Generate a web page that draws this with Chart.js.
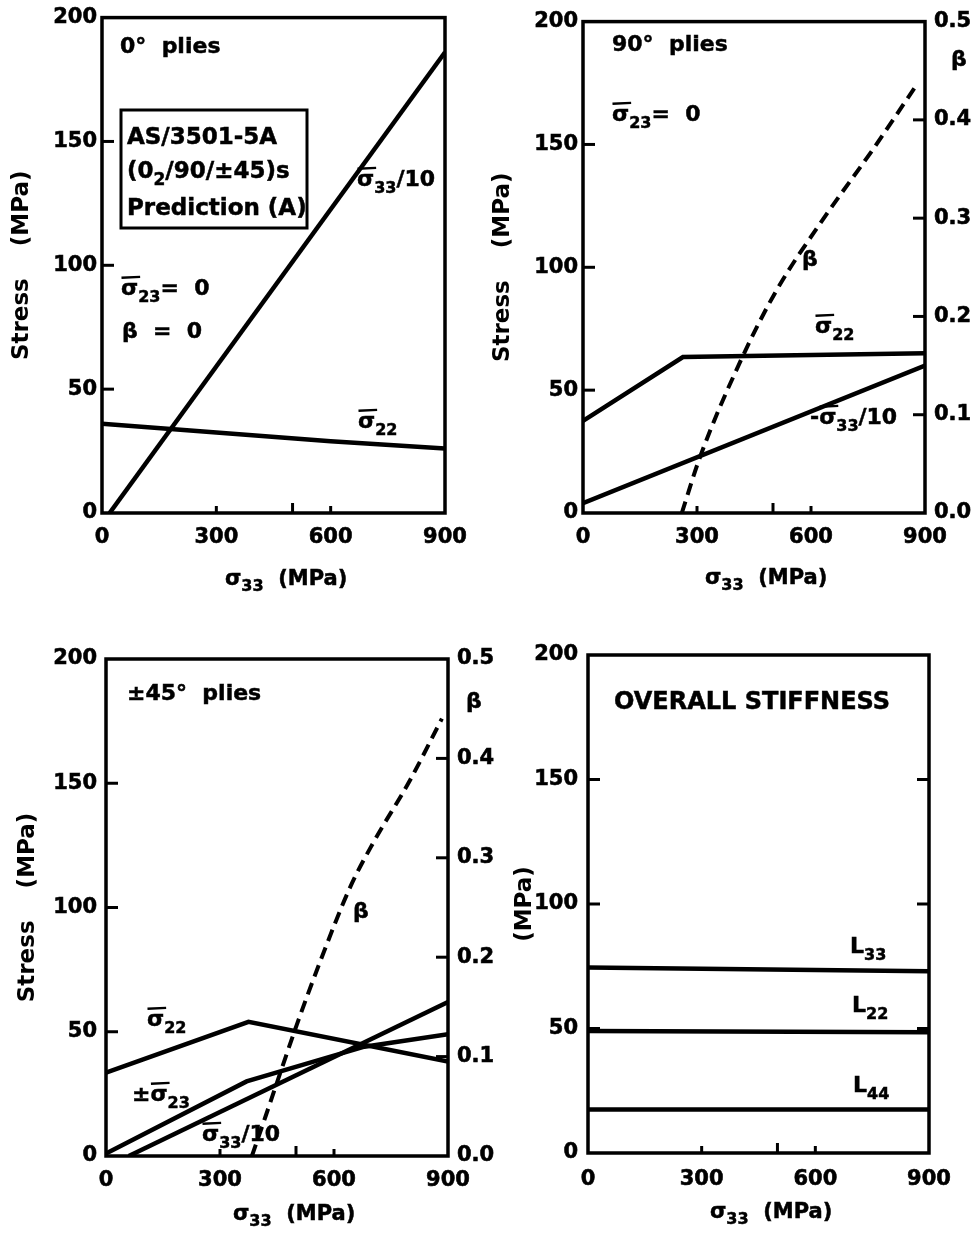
<!DOCTYPE html>
<html><head><meta charset="utf-8">
<script src="https://cdn.jsdelivr.net/npm/chart.js@4"></script>
<style>
html,body{margin:0;padding:0;background:#fff;}
body{width:973px;height:1253px;position:relative;overflow:hidden;}
canvas{position:absolute;left:0;top:0;}
</style></head><body>
<canvas id="c1" width="973" height="1253"></canvas>
<canvas id="c2" width="973" height="1253"></canvas>
<canvas id="c3" width="973" height="1253"></canvas>
<canvas id="c4" width="973" height="1253"></canvas>
<script>
// ---------------- DATA ----------------
const xTicks = [0, 300, 600, 900];
const stressTicks = [0, 50, 100, 150, 200];
const betaTicks = [0, 0.1, 0.2, 0.3, 0.4, 0.5];
const xInnerTicks = [300, 500, 600];
const stressInnerTicks = [50, 100, 150];
const betaInnerTicks = [0.1, 0.2, 0.3, 0.4];

// Panel 1: 0° plies
const p1_s33_x = [20, 900];            const p1_s33_y = [0, 186];
const p1_s22_x = [0, 300, 600, 900];   const p1_s22_y = [36, 32.5, 29, 26];
// Panel 2: 90° plies
const p2_s22_x = [0, 263, 900];        const p2_s22_y = [37.5, 63.5, 65];
const p2_s33_x = [0, 900];             const p2_s33_y = [4, 60];
const p2_beta_x = [260, 308, 421, 510, 632, 763, 882];
const p2_beta_y = [0, 0.057, 0.16, 0.227, 0.299, 0.37, 0.438];
// Panel 3: ±45° plies
const p3_s22_x = [0, 375, 900];        const p3_s22_y = [33.5, 54, 38];
const p3_s23_x = [0, 370, 680, 900];   const p3_s23_y = [1, 30, 44, 49];
const p3_s33_x = [60, 900];            const p3_s33_y = [0, 62];
const p3_beta_x = [384, 420, 466, 502, 563, 642, 703, 800, 884];
const p3_beta_y = [0, 0.04, 0.092, 0.132, 0.195, 0.27, 0.315, 0.378, 0.44];
// Panel 4: overall stiffness
const p4_L33_x = [0, 900];  const p4_L33_y = [74.5, 73];
const p4_L22_x = [0, 900];  const p4_L22_y = [49, 48.5];
const p4_L44_x = [0, 900];  const p4_L44_y = [17.5, 17.5];

// ---------------- HELPERS ----------------
const FONT = '"DejaVu Sans", "Liberation Sans", sans-serif';
const pts = (xs, ys) => xs.map((x, i) => ({x, y: ys[i]}));
const solid = (xs, ys) => ({data: pts(xs, ys), borderColor: '#000', borderWidth: 4.5, pointRadius: 0, tension: 0, fill: false, yAxisID: 'y'});
const dashed = (xs, ys) => ({data: pts(xs, ys), borderColor: '#000', borderWidth: 4, borderDash: [12, 7], pointRadius: 0, cubicInterpolationMode: 'monotone', fill: false, yAxisID: 'y2'});

function drawRich(ctx, x, y, parts, size) {
  const base = y + 0.36 * size;
  let cx = x;
  for (const [t, kind] of parts) {
    const sub = kind === 'sub';
    const fs = sub ? Math.round(size * 0.74) : size;
    ctx.font = `bold ${fs}px ${FONT}`;
    ctx.textBaseline = 'alphabetic';
    ctx.textAlign = 'left';
    const by = sub ? base + 0.3 * size : base;
    ctx.lineWidth = 0.5;
    ctx.fillText(t, cx, by);
    ctx.strokeText(t, cx, by);
    const w = ctx.measureText(t).width;
    if (kind === 'bar') {
      ctx.lineWidth = Math.max(2, size * 0.11);
      ctx.beginPath();
      ctx.moveTo(cx + 0.5, base - 0.78 * size);
      ctx.lineTo(cx + w + 2, base - 0.82 * size);
      ctx.stroke();
    }
    cx += w;
  }
}

const decor = {
  id: 'decor',
  afterDatasetsDraw(chart, args, o) {
    const {ctx, chartArea: a, scales} = chart;
    ctx.save();
    ctx.strokeStyle = '#000'; ctx.fillStyle = '#000';
    ctx.lineCap = 'square';
    ctx.lineWidth = 3.5;
    ctx.strokeRect(a.left, a.top, a.right - a.left, a.bottom - a.top);
    ctx.lineWidth = 3;
    ctx.lineCap = 'butt';
    const seg = (x1, y1, x2, y2) => { ctx.beginPath(); ctx.moveTo(x1, y1); ctx.lineTo(x2, y2); ctx.stroke(); };
    stressInnerTicks.forEach(v => { const y = scales.y.getPixelForValue(v); seg(a.left, y, a.left + 12, y); });
    if (o.rightTicks === 'beta') betaInnerTicks.forEach(v => { const y = scales.y2.getPixelForValue(v); seg(a.right, y, a.right - 12, y); });
    if (o.rightTicks === 'stress') stressInnerTicks.forEach(v => { const y = scales.y.getPixelForValue(v); seg(a.right, y, a.right - 12, y); });
    xInnerTicks.forEach(v => { const x = scales.x.getPixelForValue(v); seg(x, a.bottom, x, a.bottom - (v === 500 ? 10 : 7)); });
    if (o.box) { ctx.lineWidth = 3; ctx.strokeRect(...o.box); }
    (o.labels || []).forEach(l => drawRich(ctx, l.x, l.y, l.parts, l.size || 22));
    ctx.restore();
  }
};

function makeChart(id, P) {
  const tickFont = {family: FONT, size: 21, weight: 'bold'};
  const titleFont = {family: FONT, size: 23, weight: 'bold'};
  const lh = 1.2 * titleFont.size;
  const padLeft = P.yTitleX - lh / 2;
  const Wl = P.L - padLeft;
  const Wr = P.right ? 973 - P.R : 0;
  const Hb = 1253 - P.B;
  const tk = {font: tickFont, color: '#000', autoSkip: false, textStrokeColor: '#000', textStrokeWidth: 0.6};
  const scales = {
    x: {type: 'linear', min: 0, max: 900, position: 'bottom',
        afterBuildTicks: s => { s.ticks = xTicks.map(v => ({value: v})); },
        ticks: {...tk, padding: P.xPad, maxRotation: 0},
        grid: {display: false, drawTicks: false}, border: {display: false},
        afterFit: s => { s.height = Hb; }},
    y: {type: 'linear', min: 0, max: 200, position: 'left',
        afterBuildTicks: s => { s.ticks = stressTicks.map(v => ({value: v})); },
        ticks: {...tk, padding: P.yPad},
        grid: {display: false, drawTicks: false}, border: {display: false},
        title: {display: true, text: P.yTitle, font: titleFont, color: '#000', padding: 0},
        afterFit: s => { s.width = Wl; }}
  };
  if (P.right) {
    scales.y2 = {type: 'linear', min: 0, max: 0.5, position: 'right',
        afterBuildTicks: s => { s.ticks = betaTicks.map(v => ({value: v})); },
        ticks: {...tk, padding: 9, callback: v => v.toFixed(1)},
        grid: {display: false, drawTicks: false}, border: {display: false},
        afterFit: s => { s.width = Wr; }};
  }
  return new Chart(document.getElementById(id), {
    type: 'line',
    data: {datasets: P.datasets},
    options: {
      responsive: false, animation: false, devicePixelRatio: 1,
      layout: {autoPadding: false, padding: {left: padLeft, top: P.T, right: P.right ? 0 : 973 - P.R, bottom: 0}},
      scales,
      plugins: {legend: {display: false}, tooltip: {enabled: false},
        decor: {box: P.box, labels: P.labels, rightTicks: P.rightTicks}}
    },
    plugins: [decor]
  });
}

const xTitle = (x, y) => ({x, y, size: 21, parts: [['σ'], ['33', 'sub'], ['  (MPa)']]});
const sbar = (n) => [['σ', 'bar'], [n, 'sub']];

makeChart('c1', {
  L: 102, R: 445, T: 15, B: 513, yTitleX: 22, yTitle: 'Stress    (MPa)', xPad: 12, yPad: 5, right: false, rightTicks: null,
  datasets: [solid(p1_s33_x, p1_s33_y), solid(p1_s22_x, p1_s22_y)],
  box: [121, 110, 186, 118],
  labels: [
    {x: 120, y: 45, size: 22, parts: [['0°  plies']]},
    {x: 127, y: 136, size: 23, parts: [['AS/3501-5A']]},
    {x: 127, y: 170, size: 23, parts: [['(0'], ['2', 'sub'], ['/90/±45)s']]},
    {x: 127, y: 207, size: 23, parts: [['Prediction (A)']]},
    {x: 357, y: 178, parts: [...sbar('33'), ['/10']]},
    {x: 121, y: 287, parts: [...sbar('23'), ['=  0']]},
    {x: 122, y: 330, parts: [['β  =  0']]},
    {x: 358, y: 420, parts: sbar('22')},
    xTitle(225, 577)
  ]
});

makeChart('c2', {
  L: 583, R: 925, T: 13, B: 513, yTitleX: 503, yTitle: 'Stress    (MPa)', xPad: 12, yPad: 5, right: true, rightTicks: 'beta',
  datasets: [solid(p2_s22_x, p2_s22_y), solid(p2_s33_x, p2_s33_y), dashed(p2_beta_x, p2_beta_y)],
  labels: [
    {x: 612, y: 43, size: 22, parts: [['90°  plies']]},
    {x: 612, y: 113, parts: [...sbar('23'), ['=  0']]},
    {x: 802, y: 258, parts: [['β']]},
    {x: 815, y: 325, parts: sbar('22')},
    {x: 810, y: 416, parts: [['-'], ...sbar('33'), ['/10']]},
    {x: 951, y: 58, parts: [['β']]},
    xTitle(705, 576)
  ]
});

makeChart('c3', {
  L: 106, R: 448, T: 659, B: 1156, yTitleX: 28, yTitle: 'Stress    (MPa)', xPad: 12, yPad: 9, right: true, rightTicks: 'beta',
  datasets: [solid(p3_s22_x, p3_s22_y), solid(p3_s23_x, p3_s23_y), solid(p3_s33_x, p3_s33_y), dashed(p3_beta_x, p3_beta_y)],
  labels: [
    {x: 127, y: 692, size: 22, parts: [['±45°  plies']]},
    {x: 147, y: 1018, parts: sbar('22')},
    {x: 132, y: 1093, parts: [['±']].concat(sbar('23'))},
    {x: 202, y: 1133, parts: [...sbar('33'), ['/10']]},
    {x: 353, y: 910, parts: [['β']]},
    {x: 466, y: 700, parts: [['β']]},
    xTitle(233, 1212)
  ]
});

makeChart('c4', {
  L: 588, R: 929, T: 655, B: 1153, yTitleX: 525, yTitle: '(MPa)', xPad: 14, yPad: 10, right: false, rightTicks: 'stress',
  datasets: [solid(p4_L33_x, p4_L33_y), solid(p4_L22_x, p4_L22_y), solid(p4_L44_x, p4_L44_y)],
  labels: [
    {x: 614, y: 700, size: 24, parts: [['OVERALL STIFFNESS']]},
    {x: 850, y: 945, parts: [['L'], ['33', 'sub']]},
    {x: 852, y: 1004, parts: [['L'], ['22', 'sub']]},
    {x: 853, y: 1084, parts: [['L'], ['44', 'sub']]},
    xTitle(710, 1210)
  ]
});
</script>
</body></html>
